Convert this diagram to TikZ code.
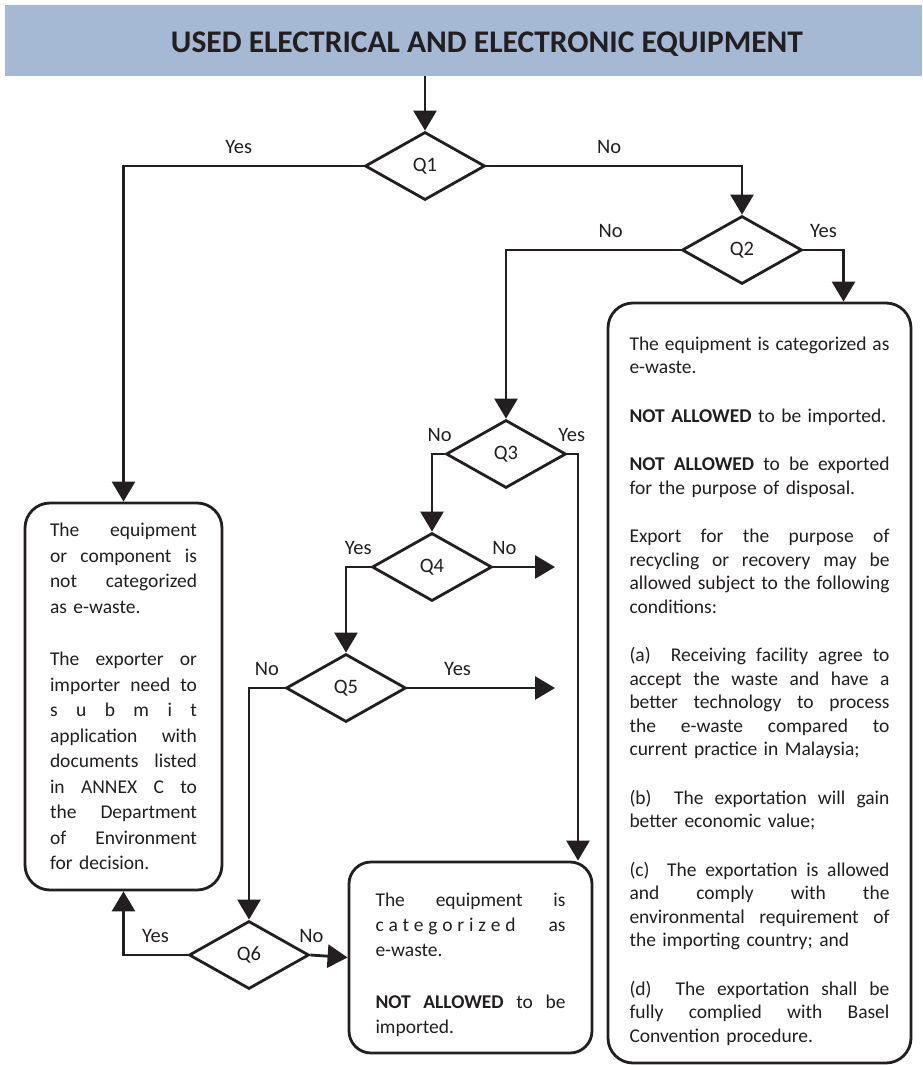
\documentclass[tikz,border=0pt]{standalone}
\usepackage{fontspec}
\setmainfont{Carlito}
\usepackage{tikz}
\usetikzlibrary{shapes.geometric,arrows.meta}

\definecolor{bandblue}{HTML}{A5B9D5}
\definecolor{inkblack}{HTML}{231F20}

% one justified line, one flush-left line, gap between paragraphs
\newcommand\jline[1]{\hbox to \hsize{\spaceskip=0.22em plus 1fil\relax #1}}
\newcommand\lline[1]{\hbox{#1}}
\newcommand\pgap[1][26pt]{\vskip #1}

\tikzset{
	flow/.style={line width=2.8pt,-{Triangle[length=20pt,width=23pt]}},
	decision/.style={diamond,draw,line width=2.8pt,inner sep=0pt,aspect=1.76,minimum width=120pt,minimum height=68pt,font=\fontsize{20.5}{23}\selectfont},
	outcome/.style={draw,line width=2.8pt,rounded corners=25pt,inner ysep=0pt,font=\fontsize{19.5}{25}\selectfont},
	answer/.style={inner sep=2pt,font=\fontsize{20.5}{23}\selectfont},
}

\begin{document}
\begin{tikzpicture}[x=1pt,y=-1pt,color=inkblack]
			\fill[white] (0,0) rectangle (922,1065);
			\useasboundingbox (0,0) rectangle (922,1065);
			%title band
			\fill[bandblue] (5,5) rectangle (922,76);
			\node[font=\fontsize{31.5}{36}\selectfont\bfseries] (title) at (487,44) {USED ELECTRICAL AND ELECTRONIC EQUIPMENT};
			\coordinate (start) at (425,76);
			
			%questions
			\foreach \n/\px/\py in {1/425/166,2/742/250,3/506/454,4/432/567,5/346/688,6/249/955}{
				\node[decision] (q\n) at (\px,\py) {Q\n};
			}
			\coordinate (q4end) at (555,567);
			\coordinate (q5end) at (555,688);
			
			%not e-waste
			\node[outcome,font=\fontsize{19.5}{25.5}\selectfont,text width=147pt,inner xsep=25pt,minimum height=387pt] (lbox) at (123.5,696.5) {
				\jline{The equipment}
				\jline{or component is}
				\jline{not categorized}
				\lline{as e-waste.}
				\pgap[27pt]
				\jline{The exporter or}
				\jline{importer need to}
				\jline{s\hfil u\hfil b\hfil m\hfil i\hfil t}
				\jline{application with}
				\jline{documents listed}
				\jline{in ANNEX C to}
				\jline{the Department}
				\jline{of Environment}
				\lline{for decision.}
			};
			
			%e-waste, import
			\node[outcome,rounded corners=22pt,text width=190pt,inner xsep=26.5pt,minimum height=191pt] (mbox) at (470.5,957.5) {
				\vskip 3pt
				\jline{The equipment is}
				\jline{c\hfil a\hfil t\hfil e\hfil g\hfil o\hfil r\hfil i\hfil z\hfil e\hfil d\hskip 0pt plus 5fil{} as}
				\lline{e-waste.}
				\pgap[27pt]
				\jline{\textbf{NOT ALLOWED} to be}
				\lline{imported.}
			};
			
			%e-waste, import and export
			\node[outcome,font=\fontsize{19.5}{23.5}\selectfont,text width=260pt,inner xsep=21.5pt,minimum height=760pt] (rbox) at (759.5,683) {
				\vskip 6pt
				\jline{The equipment is categorized as}
				\lline{e-waste.}
				\pgap[25pt]
				\lline{\textbf{NOT ALLOWED} to be imported.}
				\pgap[25pt]
				\jline{\textbf{NOT ALLOWED} to be exported}
				\lline{for the purpose of disposal.}
				\pgap[25pt]
				\jline{Export for the purpose of}
				\jline{recycling or recovery may be}
				\jline{allowed subject to the following}
				\lline{conditions:}
				\pgap[25pt]
				\jline{(a)\ \ Receiving facility agree to}
				\jline{accept the waste and have a}
				\jline{better technology to process}
				\jline{the e-waste compared to}
				\lline{current practice in Malaysia;}
				\pgap[25pt]
				\jline{(b)\ \ The exportation will gain}
				\lline{better economic value;}
				\pgap[25pt]
				\jline{(c)\ \ The exportation is allowed}
				\jline{and comply with the}
				\jline{environmental requirement of}
				\lline{the importing country; and}
				\pgap[25pt]
				\jline{(d)\ \ The exportation shall be}
				\jline{fully complied with Basel}
				\lline{Convention procedure.}
			};
			
			%arrows
			\draw[flow] (start) -- (q1.north);
			\draw[flow] (q1.west) -| node[answer,above=9pt,pos=0.26] {Yes} (lbox.north);
			\draw[flow] (q1.east) -| node[answer,above=9pt,pos=0.24] {No} (q2.north);
			\draw[flow] (q2.west) -| node[answer,above=9pt,pos=0.2] {No} (q3.north);
			\draw[flow] (q2.east) -| node[answer,above=9pt,pos=0.25] {Yes} ([xshift=84pt]rbox.north);
			\draw[flow] (q3.west) -| node[answer,above=9pt,pos=0.2] {No} (q4.north);
			\draw[flow] (q3.east) -| node[answer,above=9pt,pos=0.2] {Yes} ([xshift=107.5pt]mbox.north);
			\draw[flow] (q4.west) -| node[answer,above=9pt,pos=0.25] {Yes} (q5.north);
			\draw[flow] (q4.east) -- node[answer,above=9pt,pos=0.18] {No} (q4end);
			\draw[flow] (q5.west) -| node[answer,above=9pt,pos=0.25] {No} (q6.north);
			\draw[flow] (q5.east) -- node[answer,above=9pt,pos=0.34] {Yes} (q5end);
			\draw[flow] (q6.west) -| node[answer,above=9pt,pos=0.25] {Yes} (lbox.south);
			\draw[flow] (q6.east) -- node[answer,above=9pt,pos=0.03] {No} (mbox.west);
\end{tikzpicture}
\end{document}
